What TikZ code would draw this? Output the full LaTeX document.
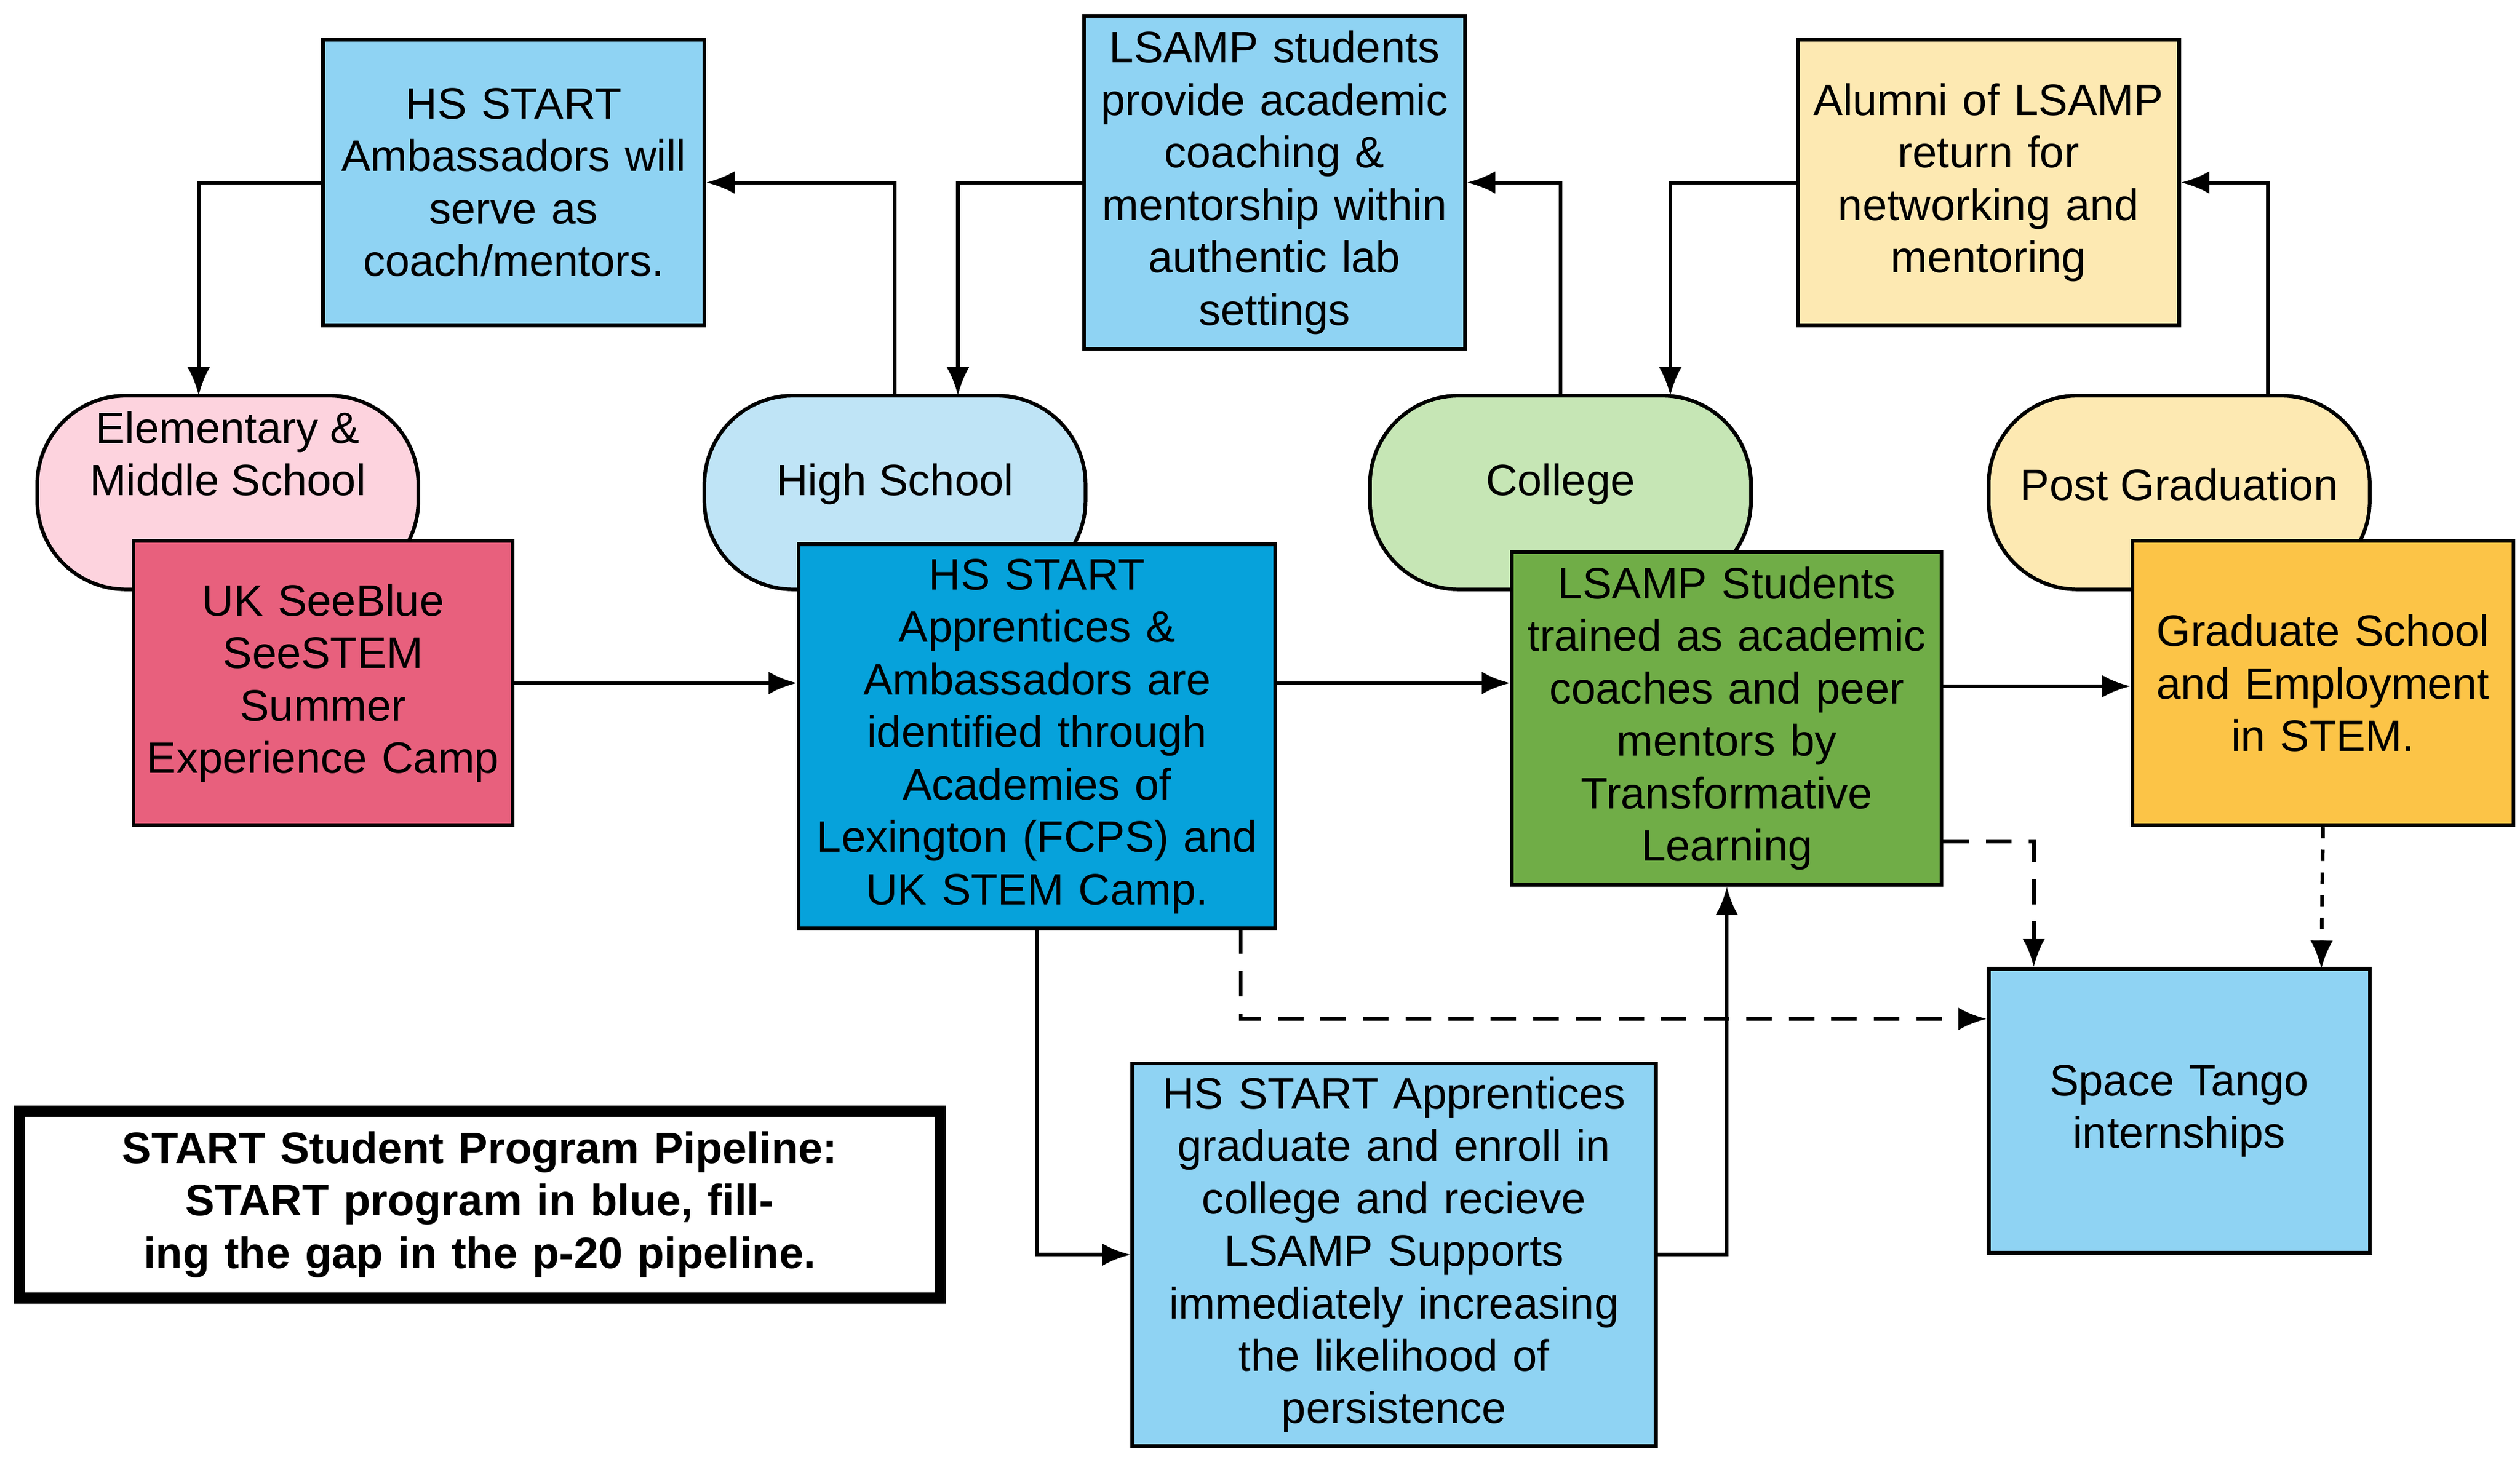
\documentclass[tikz,border=0pt]{standalone}
\usepackage{fontspec}
\setmainfont{Liberation Sans}
\usetikzlibrary{arrows.meta}
\definecolor{lb}{HTML}{8FD3F3}
\definecolor{hsb}{HTML}{BFE4F6}
\definecolor{db}{HTML}{06A2DB}
\definecolor{pk}{HTML}{FDD3DE}
\definecolor{rd}{HTML}{E8607D}
\definecolor{lg}{HTML}{C6E6B5}
\definecolor{gr}{HTML}{70AD47}
\definecolor{ly}{HTML}{FDE9B2}
\definecolor{og}{HTML}{FCC447}
\begin{document}
\begin{tikzpicture}[x=0.02cm,y=-0.02cm,
 txt/.style={font=\fontsize{15.5}{18.5}\selectfont,align=center},
 box/.style={draw,line width=1.3pt,txt,inner sep=2pt},
 pill/.style={draw,line width=1.3pt,rounded corners=1.1cm,txt,minimum width=4.72cm,minimum height=2.4cm},
 arr/.style={line width=1.3pt,-{Latex[length=10pt,width=8pt]}},
 dsh/.style={arr,dash pattern=on 9pt off 6pt},
 dot/.style={arr,dash pattern=on 4pt off 4pt}]
\path[use as bounding box] (0,0) rectangle (1560,907);
% pills
\node[pill,fill=pk] (em) at (141,305) {};
\node[txt] (emt) at (141,281) {Elementary \&\\Middle School};
\node[pill,fill=hsb] (hs) at (554,305) {};
\node[txt] (hst) at (554,300) {High School};
\node[pill,fill=lg] (co) at (966,305) {};
\node[txt] (cot) at (966,300) {College};
\node[pill,fill=ly] (pg) at (1349,305) {};
\node[txt] (pgt) at (1349,300) {Post Graduation};
% top boxes
\node[box,fill=lb,minimum width=4.72cm,minimum height=3.54cm,text width=4.4cm] (amb) at (318,113) {HS START\\Ambassadors will\\serve as\\coach/mentors.};
\node[box,fill=lb,minimum width=4.72cm,minimum height=4.12cm,text width=4.5cm] (prov) at (789,113) {LSAMP students\\provide academic\\coaching \&\\mentorship within\\authentic lab\\settings};
\node[box,fill=ly,minimum width=4.72cm,minimum height=3.54cm,text width=4.5cm] (alu) at (1231,113) {Alumni of LSAMP\\return for\\networking and\\mentoring};
% middle boxes
\node[box,fill=rd,minimum width=4.7cm,minimum height=3.52cm,text width=4.4cm] (uk) at (200,423) {UK SeeBlue\\SeeSTEM\\Summer\\Experience Camp};
\node[box,fill=db,minimum width=5.9cm,minimum height=4.76cm,text width=5.7cm] (app) at (642,456) {HS START\\Apprentices \&\\Ambassadors are\\identified through\\Academies of\\Lexington (FCPS) and\\UK STEM Camp.};
\node[box,fill=gr,minimum width=5.32cm,minimum height=4.12cm,text width=5.1cm] (tr) at (1069,445) {LSAMP Students\\trained as academic\\coaches and peer\\mentors by\\Transformative\\Learning};
\node[box,fill=og,minimum width=4.72cm,minimum height=3.52cm,text width=4.5cm] (gs) at (1438,423) {Graduate School\\and Employment\\in STEM.};
% bottom
\node[box,fill=lb,minimum width=4.72cm,minimum height=3.52cm,text width=4.5cm] (st) at (1349,688) {Space Tango\\internships};
\node[box,fill=lb,minimum width=6.48cm,minimum height=4.74cm,text width=6.3cm] (grad) at (863,777) {HS START Apprentices\\graduate and enroll in\\college and recieve\\LSAMP Supports\\immediately increasing\\the likelihood of\\persistence};
\node[draw,line width=4pt,txt,font=\fontsize{15.5}{18.5}\selectfont\bfseries,minimum width=11.4cm,minimum height=2.32cm,text width=11cm] (title) at (297,746) {START Student Program Pipeline: START program in blue, filling the gap in the p-20 pipeline.};
% arrows
\draw[arr] (uk.east) -- (app.west |- uk.east);
\draw[arr] (app.east |- 0,423) -- (tr.west |- 0,423);
\draw[arr] (tr.east |- 0,425) -- (gs.west |- 0,425);
\draw[arr] (hs.north) -- (554,113) -- (amb.east);
\draw[arr] (amb.west) -- (123,113) -- (123,245);
\draw[arr] (co.north) -- (966,113) -- (prov.east);
\draw[arr] (prov.west) -- (593,113) -- (593,245);
\draw[arr] (1404,245) -- (1404,113) -- (alu.east);
\draw[arr] (alu.west) -- (1034,113) -- (1034,245);
\draw[arr] (app.south) -- (642,777) -- (grad.west);
\draw[arr] (grad.east) -- (1069,777) -- (tr.south);
\draw[dsh] (768,575) -- (768,631) -- (st.west |- 0,631);
\draw[dsh] (tr.east |- 0,521) -- (1259,521) -- (st.north -| 1259,0);
\draw[dot] (gs.south) -- (1437,600);
\end{tikzpicture}
\end{document}
